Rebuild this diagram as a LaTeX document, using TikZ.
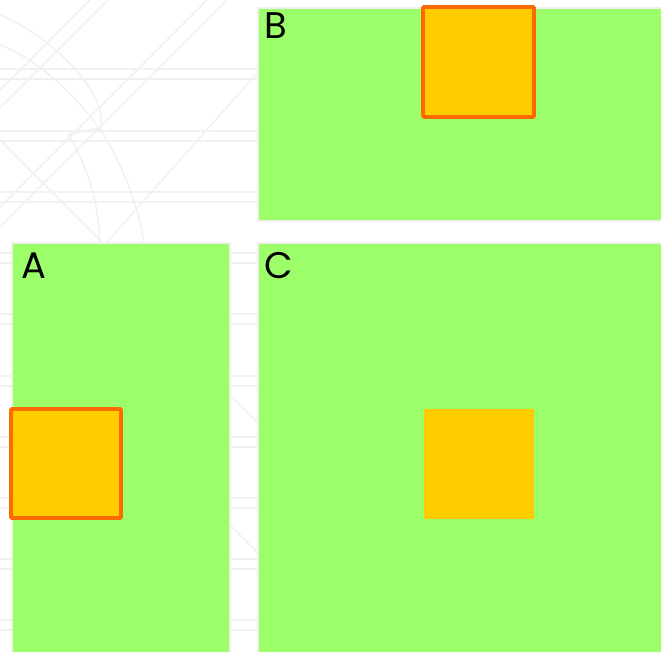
\documentclass[tikz,border=0pt]{standalone}
\usepackage{fontspec}
\setmainfont{Poppins}
\definecolor{panelgreen}{HTML}{9CFF69}
\definecolor{boxfill}{HTML}{FFCC00}
\definecolor{boxline}{HTML}{FF6A00}
\definecolor{wmark}{HTML}{F1F1F1}
\definecolor{paneledge}{HTML}{EFEFEF}
\begin{document}
\begin{tikzpicture}[x=1pt,y=-1pt,
  panel/.style={fill=panelgreen,draw=paneledge,line width=1.5pt},
  hotbox/.style={fill=boxfill,draw=boxline,line width=3.6pt,rounded corners=1pt},
  plainbox/.style={fill=boxfill},
  lbl/.style={anchor=base west,inner sep=0pt,font=\fontsize{37}{40}\selectfont},
  wm/.style={draw=wmark,line width=1.5pt}]
\useasboundingbox (0,0) rectangle (661,652);
\fill[white] (0,0) rectangle (661,652);
% faint watermark background
\begin{scope}
\clip (0,0) rectangle (661,652);
\foreach \y in {69,131,192,253,314,376,437,498,559,620}{
  \draw[wm] (0,\y) -- (661,\y);
  \draw[wm] (0,\y+10) -- (661,\y+10);
}
\draw[wm] (90,0) -- (0,90);
\draw[wm] (108,0) -- (0,108);
\draw[wm] (207,0) -- (-50,257);
\draw[wm] (227,0) -- (-30,257);
\draw[wm] (260,70) -- (100,250);
\draw[wm] (0,140) -- (120,260);
\draw[wm] (225,390) -- (260,425);
\draw[wm] (225,520) -- (260,555);
\draw[wm] (0,15) .. controls (60,40) and (110,100) .. (100,128) -- (68,134);
\draw[wm] (0,45) .. controls (40,60) and (80,100) .. (100,130);
\draw[wm] (70,134) -- (100,128) .. controls (125,170) and (140,210) .. (145,250);
\draw[wm] (68,134) .. controls (90,170) and (100,210) .. (100,250);
\end{scope}
% panels
\path[panel] (258,8) rectangle (664,221);
\path[panel] (12,243) rectangle (230,655);
\path[panel] (258,243) rectangle (664,655);
% squares
\path[hotbox] (423,7) rectangle (534,117);
\path[hotbox] (11,409) rectangle (121,518);
\path[plainbox] (424,409) rectangle (534,519);
% labels
\node[lbl] (lB) at (264,39) {B};
\node[lbl] (lA) at (21,279) {A};
\node[lbl] (lC) at (264,279) {C};
\end{tikzpicture}
\end{document}
